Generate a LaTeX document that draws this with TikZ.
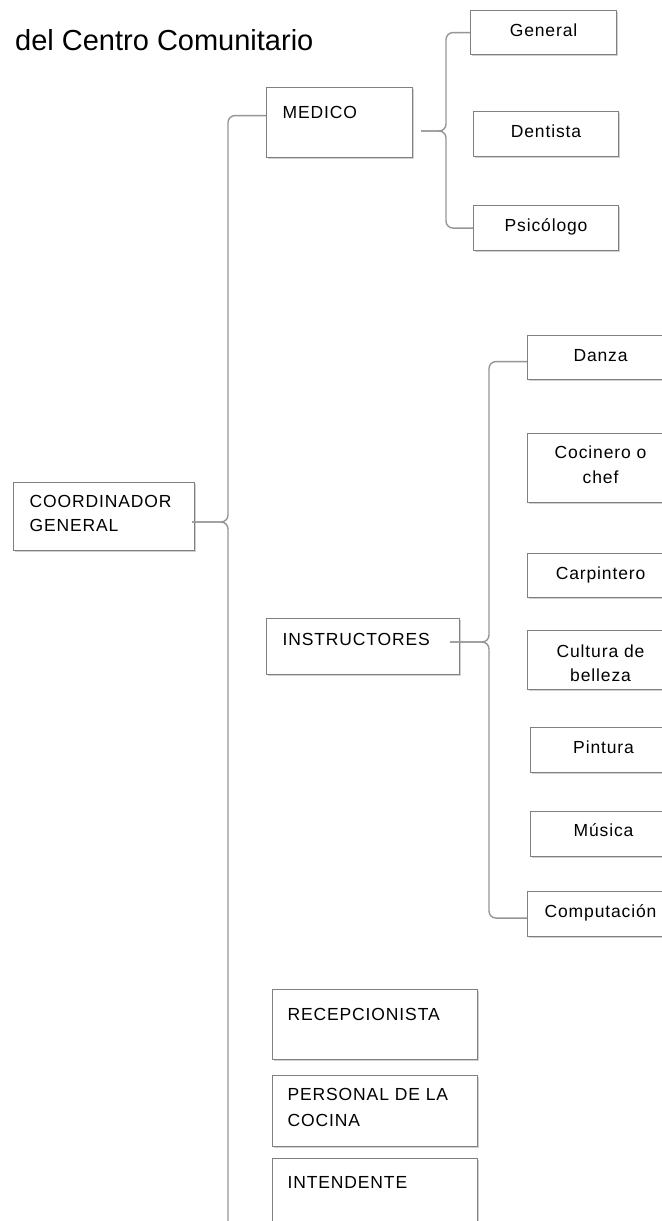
\documentclass[tikz,border=0pt]{standalone}
\usepackage{fontspec}
\setmainfont{Liberation Sans}
\newfontfamily\lblfont[LetterSpace=5]{Liberation Sans}
\usetikzlibrary{shadows}
\definecolor{boxgray}{RGB}{128,128,128}
\definecolor{linegray}{RGB}{150,150,150}
\tikzset{
  box/.style={draw=boxgray, line width=1.1bp, fill=white, inner xsep=0pt, inner ysep=0pt,
    anchor=north west, font={\lblfont\fontsize{17.5bp}{24bp}\selectfont},
    drop shadow={shadow xshift=1bp, shadow yshift=-1.5bp, opacity=0.18, fill=black}},
  cbox/.style={box, align=center},
  lbox/.style={box, align=left},
  conn/.style={draw=linegray, line width=1.4bp, rounded corners=7bp},
}
\begin{document}
\begin{tikzpicture}[x=1bp, y=-1bp]
\useasboundingbox (0,0) rectangle (662,1221);
\clip (0,0) rectangle (662,1221);
\fill[white] (0,0) rectangle (662,1221);

\node[anchor=base west, inner sep=0pt, font=\fontsize{29bp}{33bp}\selectfont] (title) at (15,50) {del Centro Comunitario};

% level 1
\node[lbox, text width=181bp, text height=25bp, text depth=43bp] (coord) at (13,482)
  {\hspace*{16bp}COORDINADOR\\\hspace*{16bp}GENERAL};

% level 2
\node[lbox, text width=146bp, text height=31bp, text depth=39bp] (med) at (266,87) {\hspace*{16bp}MEDICO};
\node[lbox, text width=193bp, text height=27bp, text depth=29bp] (ins) at (266,618) {\hspace*{16bp}INSTRUCTORES};
\node[lbox, text width=205bp, text height=31bp, text depth=39bp] (rec) at (272,989) {\hspace*{15bp}RECEPCIONISTA};
\node[lbox, text width=205bp, text height=25bp, text depth=46bp,
  font={\lblfont\fontsize{17.5bp}{26bp}\selectfont}] (per) at (272,1075) {\hspace*{15bp}PERSONAL DE LA\\\hspace*{15bp}COCINA};
\node[lbox, text width=205bp, text height=30bp, text depth=40bp] (int) at (272,1158) {\hspace*{15bp}INTENDENTE};

% medico children
\node[cbox, text width=146bp, text height=26bp, text depth=18bp] (gen) at (470,10) {General};
\node[cbox, text width=145bp, text height=26bp, text depth=19bp] (den) at (473,111) {Dentista};
\node[cbox, text width=145bp, text height=26bp, text depth=19bp] (psi) at (473,205) {Psicólogo};

% instructores children
\node[cbox, text width=146bp, text height=26bp, text depth=18bp] (dan) at (527,335) {Danza};
\node[cbox, text width=146bp, text height=25bp, text depth=44bp,
  font={\lblfont\fontsize{17.5bp}{25bp}\selectfont}] (coc) at (527,433) {Cocinero o\\chef};
\node[cbox, text width=146bp, text height=26bp, text depth=18bp] (car) at (527,553) {Carpintero};
\node[cbox, text width=146bp, text height=27bp, text depth=32bp] (cul) at (527,630) {Cultura de\\belleza};
\node[cbox, text width=146bp, text height=25.5bp, text depth=19.5bp] (pin) at (530,727) {Pintura};
\node[cbox, text width=146bp, text height=25bp, text depth=20bp] (mus) at (530,811) {Música};
\node[cbox, text width=146bp, text height=25.5bp, text depth=19.5bp] (com) at (527,891) {Computación};

% connectors
\coordinate (cs) at (192,522);
\coordinate (ct) at (228,522);
\coordinate (cend) at (228,1240);
\draw[conn] (cs) -- (ct) |- ([yshift=7bp]med.west);
\draw[conn] (cs) -- (ct) -- (cend);

\coordinate (ms) at (421,131);
\coordinate (mt) at (446,131);
\draw[conn] (ms) -- (mt) |- (gen.west);
\draw[conn] (ms) -- (mt) |- (psi.west);

\coordinate (is) at (450,642);
\coordinate (it) at (489,642);
\draw[conn] (is) -- (it) |- ([yshift=-4bp]dan.west);
\draw[conn] (is) -- (it) |- ([yshift=-4bp]com.west);
\end{tikzpicture}
\end{document}
